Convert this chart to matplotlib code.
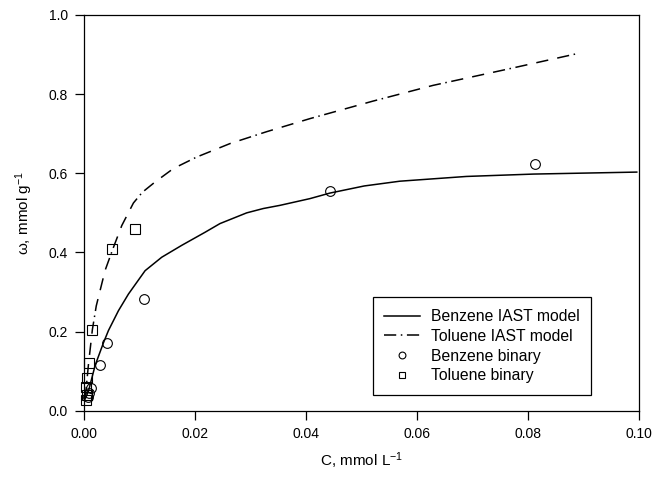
import matplotlib
matplotlib.use("Agg")
import matplotlib.pyplot as plt

plt.rcParams['font.family'] = ['Liberation Sans', 'DejaVu Sans']
plt.rcParams['mathtext.default'] = 'regular'

# IAST model curves
benz_model_c = [0.0002, 0.0008, 0.0020, 0.0035, 0.0044, 0.0062, 0.0080, 0.0110,
                0.0140, 0.0176, 0.0218, 0.0245, 0.0293, 0.0323, 0.0353, 0.0407,
                0.0443, 0.0505, 0.0569, 0.0689, 0.0810, 0.0996]
benz_model_w = [0.030, 0.050, 0.115, 0.172, 0.203, 0.253, 0.295, 0.354,
                0.388, 0.418, 0.451, 0.473, 0.500, 0.511, 0.519, 0.536,
                0.550, 0.568, 0.580, 0.592, 0.598, 0.603]

tol_model_c = [0.0002, 0.0008, 0.0015, 0.0022, 0.0030, 0.0038, 0.0053, 0.0068,
               0.0089, 0.0105, 0.0128, 0.0161, 0.0203, 0.0263, 0.0329, 0.0407,
               0.0520, 0.0629, 0.0760, 0.0885]
tol_model_w = [0.030, 0.118, 0.205, 0.265, 0.310, 0.355, 0.413, 0.468,
               0.525, 0.552, 0.578, 0.612, 0.641, 0.675, 0.705, 0.738,
               0.782, 0.822, 0.862, 0.901]

# experimental binary data
benz_c = [0.0007, 0.0009, 0.0013, 0.0029, 0.0041, 0.0108, 0.0443, 0.0813]
benz_w = [0.035, 0.045, 0.057, 0.115, 0.172, 0.282, 0.556, 0.623]

tol_c = [0.0003, 0.0004, 0.0005, 0.0006, 0.00096, 0.0015, 0.0050, 0.0092]
tol_w = [0.027, 0.060, 0.040, 0.083, 0.122, 0.203, 0.408, 0.460]

fig = plt.figure(figsize=(6.67, 4.80), dpi=100)
fig.subplots_adjust(left=0.126, right=0.958, bottom=0.144, top=0.969)
ax = fig.add_subplot(111)

ax.plot(benz_model_c, benz_model_w, color='black', lw=1.1, label='Benzene IAST model')
ax.plot(tol_model_c, tol_model_w, color='black', lw=1.1,
        dashes=(8, 3, 1, 3, 8, 6, 8, 6), label='Toluene IAST model')
ax.plot(benz_c, benz_w, 'o', ms=7, mfc='none', mec='black', mew=0.8,
        clip_on=False, label='Benzene binary')
ax.plot(tol_c, tol_w, 's', ms=7, mfc='none', mec='black', mew=0.8,
        clip_on=False, label='Toluene binary')

ax.set_xlim(0, 0.10)
ax.set_ylim(0, 1.0)
ax.set_xticks([0.00, 0.02, 0.04, 0.06, 0.08, 0.10])
ax.set_yticks([0.0, 0.2, 0.4, 0.6, 0.8, 1.0])
ax.xaxis.set_major_formatter(matplotlib.ticker.FormatStrFormatter('%.2f'))
ax.yaxis.set_major_formatter(matplotlib.ticker.FormatStrFormatter('%.1f'))
ax.tick_params(direction='out', length=6.5, width=0.9, labelsize=10,
               top=False, right=False, pad=5)
for s in ax.spines.values():
  s.set_linewidth(0.9)

ax.set_xlabel('C, mmol L$^{-1}$', fontsize=11, labelpad=7)
ax.set_ylabel('ω, mmol g$^{-1}$', fontsize=11, labelpad=10)

leg = ax.legend(loc='lower left', bbox_to_anchor=(0.52, 0.040), borderaxespad=0,
                fontsize=11.3, fancybox=False, edgecolor='black', framealpha=1,
                handlelength=2.3, labelspacing=0.3, borderpad=0.75,
                handletextpad=0.65, markerscale=0.7)
leg.get_frame().set_linewidth(0.9)

fig.savefig('out.png', dpi=100)
